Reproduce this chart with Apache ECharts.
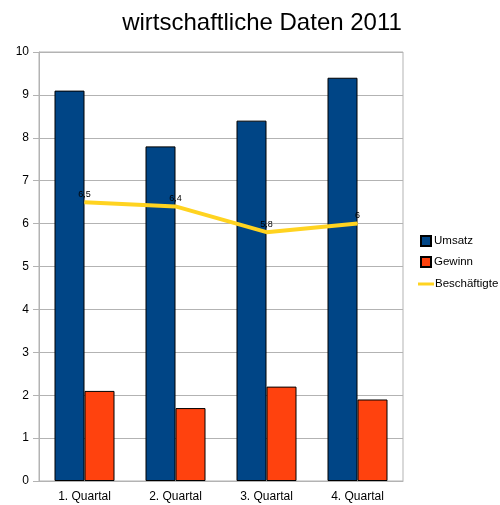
<!DOCTYPE html>
<html>
<head>
<meta charset="utf-8">
<script src="https://cdn.jsdelivr.net/npm/echarts@6/dist/echarts.min.js"></script>
<style>
  html, body { margin: 0; padding: 0; background: #fff; }
  #main { width: 500px; height: 505px; }
</style>
</head>
<body>
<div id="main"></div>
<script>
var quarters = ["1. Quartal", "2. Quartal", "3. Quartal", "4. Quartal"];
var umsatz = [9.1, 7.8, 8.4, 9.4];
var gewinn = [2.1, 1.7, 2.2, 1.9];
var beschaeftigte = [6.5, 6.4, 5.8, 6];

var chart = echarts.init(document.getElementById("main"));
var font = "Liberation Sans, Arial, sans-serif";

var option = {
  animation: false,
  textStyle: { fontFamily: font },
  title: {
    text: "wirtschaftliche Daten 2011",
    left: 257,
    top: 6,
    textAlign: "center",
    textStyle: { fontFamily: font, fontSize: 24, fontWeight: "normal", color: "#000" }
  },
  grid: {
    left: 39, right: 97, top: 52, bottom: 24,
    show: true, borderColor: "#b3b3b3", borderWidth: 1
  },
  legend: [
    {
      data: ["Umsatz", "Gewinn"],
      orient: "vertical",
      left: 420, top: 235, padding: 0,
      itemWidth: 10, itemHeight: 10, itemGap: 9, icon: "rect",
      textStyle: { fontFamily: font, fontSize: 11.5, color: "#000", padding: [0, 0, 0, -2] }
    },
    {
      data: ["Beschäftigte"],
      orient: "vertical",
      left: 418, top: 278, padding: 0,
      itemWidth: 16, itemHeight: 3, icon: "rect",
      textStyle: { fontFamily: font, fontSize: 11.5, color: "#000", padding: [0, 0, 0, -4] }
    }
  ],
  xAxis: {
    type: "category",
    data: quarters,
    axisLine: { lineStyle: { color: "#b3b3b3" } },
    axisTick: { length: 6, lineStyle: { color: "#b3b3b3" } },
    axisLabel: { color: "#000", fontSize: 12, margin: 10 }
  },
  yAxis: {
    type: "value",
    min: 0, max: 10, interval: 1,
    axisLine: { show: true, lineStyle: { color: "#b3b3b3" } },
    axisTick: { show: true, length: 6, lineStyle: { color: "#b3b3b3" } },
    axisLabel: { color: "#000", fontSize: 12, margin: 10 },
    splitLine: { lineStyle: { color: "#b3b3b3" } }
  },
  series: [
    {
      name: "Umsatz",
      type: "bar",
      data: umsatz,
      barWidth: 30,
      barGap: "0%",
      itemStyle: { color: "#004586", borderColor: "#000", borderWidth: 1 }
    },
    {
      name: "Gewinn",
      type: "bar",
      data: gewinn,
      barWidth: 30,
      itemStyle: { color: "#ff420e", borderColor: "#000", borderWidth: 1 }
    },
    {
      name: "Beschäftigte",
      type: "line",
      data: beschaeftigte,
      symbol: "circle",
      symbolSize: 1,
      lineStyle: { color: "#ffd320", width: 4 },
      itemStyle: { color: "#ffd320" },
      label: {
        show: true,
        position: "top",
        distance: 3,
        fontSize: 9,
        color: "#000",
        formatter: function (p) { return String(p.value).replace(".", ","); }
      },
      z: 5
    }
  ]
};
chart.setOption(option);
</script>
</body>
</html>
